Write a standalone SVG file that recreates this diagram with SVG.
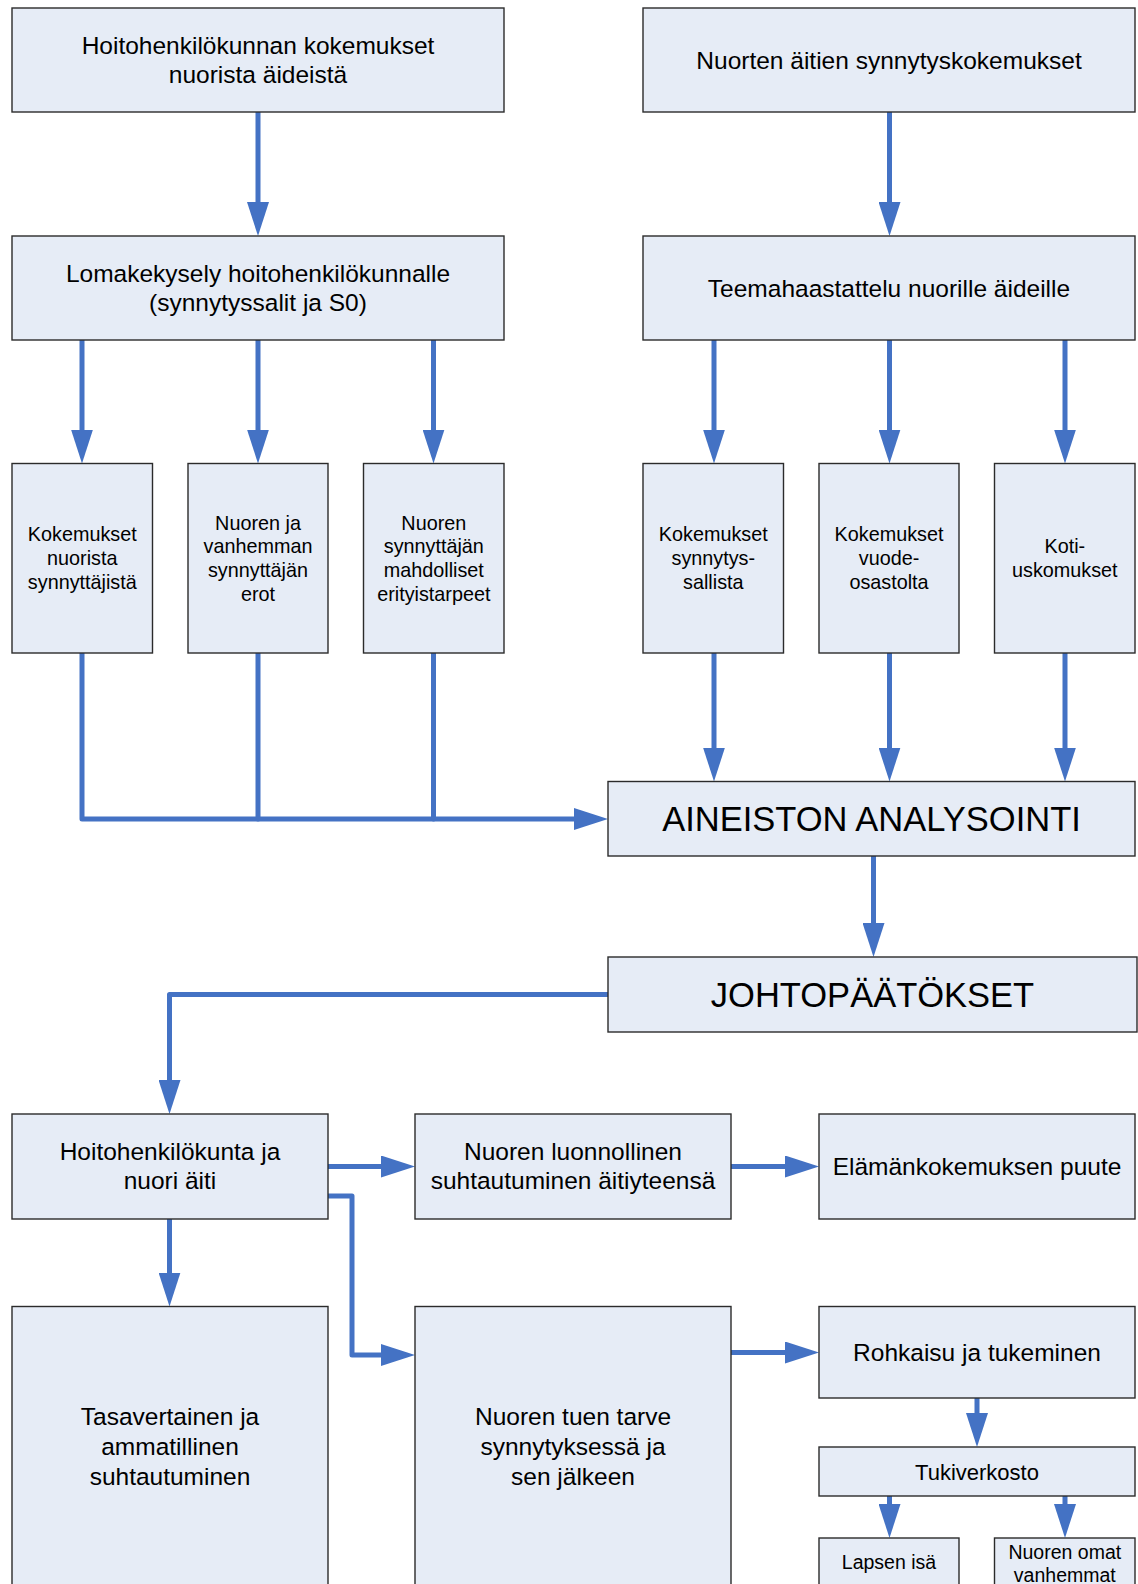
<svg xmlns="http://www.w3.org/2000/svg" width="1138" height="1584" viewBox="0 0 1138 1584">
<style>
.b{fill:#E6ECF6;stroke:#2b2b2b;stroke-width:1.4}
text{font-family:"Liberation Sans",Arial,sans-serif;fill:#000;text-anchor:middle}
.m{font-size:24.5px}
.s{font-size:19.8px}
.l{font-size:34.5px}
.c{fill:none;stroke:#4472C4;stroke-width:5;stroke-linecap:round;stroke-linejoin:round}
</style>
<defs>
<marker id="ah" markerUnits="userSpaceOnUse" markerWidth="34" markerHeight="22" refX="4" refY="11" orient="auto" viewBox="0 0 34 22">
<path d="M0,0 L34,11 L0,22 Z" fill="#4472C4"/>
</marker>
</defs>
<g id="connectors">
<path class="c" marker-end="url(#ah)" d="M258,112 V206"/>
<path class="c" marker-end="url(#ah)" d="M889.5,112 V206"/>
<path class="c" marker-end="url(#ah)" d="M82,340 V433.5"/>
<path class="c" marker-end="url(#ah)" d="M258,340 V433.5"/>
<path class="c" marker-end="url(#ah)" d="M433.5,340 V433.5"/>
<path class="c" marker-end="url(#ah)" d="M714,340 V433.5"/>
<path class="c" marker-end="url(#ah)" d="M889.5,340 V433.5"/>
<path class="c" marker-end="url(#ah)" d="M1065,340 V433.5"/>
<path class="c" marker-end="url(#ah)" d="M714,653 V751.5"/>
<path class="c" marker-end="url(#ah)" d="M889.5,653 V751.5"/>
<path class="c" marker-end="url(#ah)" d="M1065,653 V751.5"/>
<path class="c" marker-end="url(#ah)" d="M82,653 V819 H578"/>
<path class="c" d="M258,653 V819"/>
<path class="c" d="M433.5,653 V819"/>
<path class="c" marker-end="url(#ah)" d="M873.5,856 V927"/>
<path class="c" marker-end="url(#ah)" d="M608,994.5 H169.5 V1084"/>
<path class="c" marker-end="url(#ah)" d="M328,1166.5 H385"/>
<path class="c" marker-end="url(#ah)" d="M731,1166.5 H789"/>
<path class="c" marker-end="url(#ah)" d="M169.5,1219 V1276.5"/>
<path class="c" marker-end="url(#ah)" d="M328,1196 H352 V1355 H385"/>
<path class="c" marker-end="url(#ah)" d="M731,1352.5 H789"/>
<path class="c" marker-end="url(#ah)" d="M977,1398 V1417"/>
<path class="c" marker-end="url(#ah)" d="M889.5,1496 V1508"/>
<path class="c" marker-end="url(#ah)" d="M1065,1496 V1508"/>
</g>
<g id="n1"><rect class="b" x="12" y="8" width="492" height="104"/><text class="m" x="258" y="53.5">Hoitohenkilökunnan kokemukset</text><text class="m" x="258" y="83">nuorista äideistä</text></g>
<g id="n2"><rect class="b" x="643" y="8" width="492" height="104"/><text class="m" x="889" y="68.5">Nuorten äitien synnytyskokemukset</text></g>
<g id="n3"><rect class="b" x="12" y="236" width="492" height="104"/><text class="m" x="258" y="281.5">Lomakekysely hoitohenkilökunnalle</text><text class="m" x="258" y="311">(synnytyssalit ja S0)</text></g>
<g id="n4"><rect class="b" x="643" y="236" width="492" height="104"/><text class="m" x="889" y="296.5">Teemahaastattelu nuorille äideille</text></g>
<g id="n5"><rect class="b" x="12" y="463.5" width="140.5" height="189.5"/><text class="s" x="82.3" y="541">Kokemukset</text><text class="s" x="82.3" y="565">nuorista</text><text class="s" x="82.3" y="589">synnyttäjistä</text></g>
<g id="n6"><rect class="b" x="188" y="463.5" width="140" height="189.5"/><text class="s" x="258" y="529.5">Nuoren ja</text><text class="s" x="258" y="553.3">vanhemman</text><text class="s" x="258" y="577">synnyttäjän</text><text class="s" x="258" y="601">erot</text></g>
<g id="n7"><rect class="b" x="363.5" y="463.5" width="140.5" height="189.5"/><text class="s" x="433.8" y="529.5">Nuoren</text><text class="s" x="433.8" y="553.3">synnyttäjän</text><text class="s" x="433.8" y="577">mahdolliset</text><text class="s" x="433.8" y="601">erityistarpeet</text></g>
<g id="n8"><rect class="b" x="643" y="463.5" width="140.5" height="189.5"/><text class="s" x="713.3" y="541">Kokemukset</text><text class="s" x="713.3" y="565">synnytys-</text><text class="s" x="713.3" y="589">sallista</text></g>
<g id="n9"><rect class="b" x="819" y="463.5" width="140" height="189.5"/><text class="s" x="889" y="541">Kokemukset</text><text class="s" x="889" y="565">vuode-</text><text class="s" x="889" y="589">osastolta</text></g>
<g id="n10"><rect class="b" x="994.5" y="463.5" width="140.5" height="189.5"/><text class="s" x="1064.8" y="553.3">Koti-</text><text class="s" x="1064.8" y="577">uskomukset</text></g>
<g id="n11"><rect class="b" x="608" y="781.5" width="527" height="74.5"/><text class="l" x="871.5" y="830.5">AINEISTON ANALYSOINTI</text></g>
<g id="n12"><rect class="b" x="608" y="957" width="529" height="75"/><text class="l" x="872.5" y="1007">JOHTOPÄÄTÖKSET</text></g>
<g id="n13"><rect class="b" x="12" y="1114" width="316" height="105"/><text class="m" x="170" y="1159.5">Hoitohenkilökunta ja</text><text class="m" x="170" y="1189">nuori äiti</text></g>
<g id="n14"><rect class="b" x="415" y="1114" width="316" height="105"/><text class="m" x="573" y="1159.5">Nuoren luonnollinen</text><text class="m" x="573" y="1189">suhtautuminen äitiyteensä</text></g>
<g id="n15"><rect class="b" x="819" y="1114" width="316" height="105"/><text class="m" x="977" y="1175">Elämänkokemuksen puute</text></g>
<g id="n16"><rect class="b" x="12" y="1306.5" width="316" height="300"/><text class="m" x="170" y="1424.5">Tasavertainen ja</text><text class="m" x="170" y="1454.5">ammatillinen</text><text class="m" x="170" y="1484.5">suhtautuminen</text></g>
<g id="n17"><rect class="b" x="415" y="1306.5" width="316" height="300"/><text class="m" x="573" y="1424.5">Nuoren tuen tarve</text><text class="m" x="573" y="1454.5">synnytyksessä ja</text><text class="m" x="573" y="1484.5">sen jälkeen</text></g>
<g id="n18"><rect class="b" x="819" y="1306.5" width="316" height="91.5"/><text class="m" x="977" y="1361">Rohkaisu ja tukeminen</text></g>
<g id="n19"><rect class="b" x="819" y="1447" width="316" height="49"/><text x="977" y="1479.5" style="font-size:22px">Tukiverkosto</text></g>
<g id="n20"><rect class="b" x="819" y="1538" width="140" height="80"/><text class="s" x="889" y="1568.5" style="font-size:19.5px">Lapsen isä</text></g>
<g id="n21"><rect class="b" x="994.5" y="1538" width="140.5" height="80"/><text class="s" x="1064.8" y="1558.5" style="font-size:19.5px">Nuoren omat</text><text class="s" x="1064.8" y="1581.5" style="font-size:19.5px">vanhemmat</text></g>
</svg>
